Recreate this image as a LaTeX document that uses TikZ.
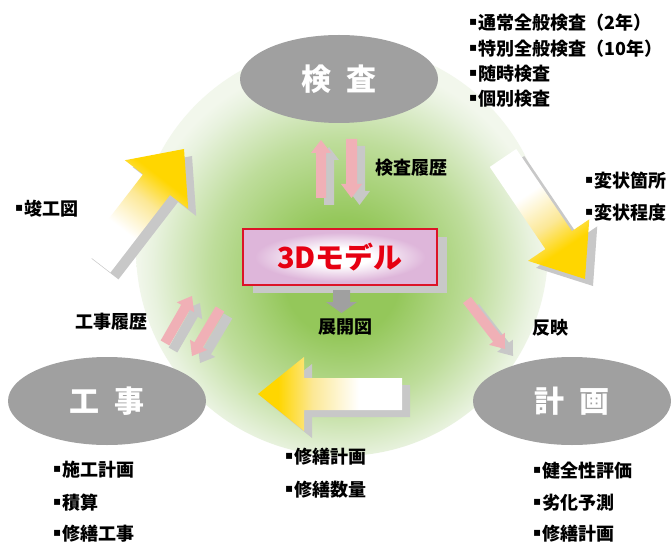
\documentclass[tikz,border=0pt]{standalone}
\usepackage{fontspec}
\setmainfont{Noto Sans CJK JP}
\newfontfamily\dejavu{DejaVu Sans}
\usetikzlibrary{shapes.geometric,calc}
\definecolor{ellgray}{RGB}{160,160,160}
\definecolor{shadowc}{RGB}{200,200,200}
\definecolor{pinkarr}{RGB}{240,176,182}
\definecolor{gc}{RGB}{148,199,90}
\definecolor{gm}{RGB}{190,221,155}
\definecolor{ge}{RGB}{232,242,222}
\definecolor{ge2}{RGB}{242,247,236}
\definecolor{ygold}{RGB}{255,214,0}
\definecolor{ymid}{RGB}{252,232,150}
\definecolor{boxred}{RGB}{220,20,40}
\definecolor{boxpink}{RGB}{222,182,218}
\definecolor{txtred}{RGB}{230,0,18}
\pgfdeclareradialshading{bgshade}{\pgfpoint{0bp}{-4bp}}{color(0bp)=(gc); color(7bp)=(gc); color(16bp)=(gm); color(23bp)=(ge); color(25bp)=(ge2); color(50bp)=(ge2)}
\pgfdeclareverticalshading{yshade}{100bp}{color(0bp)=(white); color(40bp)=(white); color(56bp)=(ymid); color(68bp)=(ygold); color(100bp)=(ygold)}
\pgfdeclareradialshading{boxshade}{\pgfpoint{0bp}{0bp}}{color(0bp)=(white); color(8bp)=(white); color(22bp)=(boxpink); color(50bp)=(boxpink)}
% #1 name, #2 tail, #3 tip, #4 half shaft, #5 half head, #6 head length, #7 options
\newcommand\fatarr[7]{%
  \coordinate (#1-t) at #2;
  \coordinate (#1-p) at #3;
  \coordinate (#1-b) at ($(#1-p)!#6!(#1-t)$);
  \begin{scope}[transform canvas={shift={(8pt,-7pt)}}]
    \fill[shadowc] ($(#1-t)!#4!90:(#1-p)$) -- ($(#1-b)!#4!90:(#1-p)$) -- ($(#1-b)!#5!90:(#1-p)$) -- (#1-p) -- ($(#1-b)!#5!-90:(#1-p)$) -- ($(#1-b)!#4!-90:(#1-p)$) -- ($(#1-t)!#4!-90:(#1-p)$) -- cycle;
  \end{scope}
  \path[#7] ($(#1-t)!#4!90:(#1-p)$) -- ($(#1-b)!#4!90:(#1-p)$) -- ($(#1-b)!#5!90:(#1-p)$) -- (#1-p) -- ($(#1-b)!#5!-90:(#1-p)$) -- ($(#1-b)!#4!-90:(#1-p)$) -- ($(#1-t)!#4!-90:(#1-p)$) -- cycle;
}
\newcommand\lbul{\raisebox{4pt}{\dejavu\fontsize{12}{12}\selectfont ▪}\kern1pt}
\tikzset{
  ell/.style={ellipse, fill=ellgray, minimum width=198pt, minimum height=88pt, inner sep=0pt, text=white, font=\bfseries\fontsize{30}{30}\selectfont},
  lbl/.style={font=\bfseries\fontsize{18}{18}\selectfont, inner sep=0pt, anchor=west},
  clbl/.style={font=\bfseries\fontsize{18}{18}\selectfont, inner sep=0pt},
  yarr/.style={shade, shading=yshade, shading angle=#1},
  parr/.style={fill=pinkarr}
}
\begin{document}
\begin{tikzpicture}[x=1pt,y=-1pt]
\fill[white] (0,0) rectangle (671,545);
\useasboundingbox (0,0) rectangle (671,545);
% background
\shade[shading=bgshade] (342,250) circle (206);
% ellipses
\node[ell] (kensa) at (339,79) {検\hspace{16pt}査};
\node[ell] (kouji) at (107,401) {工\hspace{16pt}事};
\node[ell] (keikaku) at (572,401) {計\hspace{16pt}画};
% 3D model box
\node[minimum width=194pt, minimum height=56pt, fill=shadowc, inner sep=0pt] (modelsh) at (350,265) {};
\node[minimum width=194pt, minimum height=56pt, draw=boxred, line width=1.2pt, shade, shading=boxshade, inner sep=0pt, text=txtred, font=\bfseries\fontsize{29}{29}\selectfont] (model) at (340,257) {3Dモデル};
% arrow under box
\coordinate (da-t) at (341.5,290);
\coordinate (da-p) at (341.5,313);
\coordinate (da-b) at (341.5,302);
\fill[ellgray] ($(da-t)+(-8.5,0)$) -- ($(da-b)+(-8.5,0)$) -- ($(da-b)+(-15.5,0)$) -- (da-p) -- ($(da-b)+(15.5,0)$) -- ($(da-b)+(8.5,0)$) -- ($(da-t)+(8.5,0)$) -- cycle;
% big yellow arrows
\fatarr{ya}{(97,262)}{(184,149)}{17pt}{40pt}{45pt}{yarr=-37.6}
\fatarr{yb}{(503,158)}{(585,279)}{16pt}{37pt}{47pt}{yarr=-145.9}
\fatarr{yc}{(402,394)}{(258,394)}{16pt}{37pt}{46pt}{yarr=90}
% pink arrows
\fatarr{pa}{(321,198)}{(321,140)}{5pt}{10pt}{13pt}{parr}
\fatarr{pb}{(351.5,139)}{(351.5,198)}{5.5pt}{10.5pt}{14pt}{parr}
\fatarr{pc}{(165,343)}{(192,296)}{5pt}{10pt}{13pt}{parr}
\fatarr{pd}{(220,309)}{(192,356)}{5pt}{10pt}{13pt}{parr}
\fatarr{pe}{(467,300)}{(505,349)}{5pt}{10pt}{13pt}{parr}
% labels
\node[lbl] (l1) at (375,168) {検査履歴};
\node[clbl] (l2) at (345,327) {展開図};
\node[clbl] (l3) at (111,322) {工事履歴};
\node[clbl] (l4) at (550,328) {反映};
% lists
\node[lbl] (k1) at (469,23) {\lbul 通常全般検査（2年）};
\node[lbl] (k2) at (469,49) {\lbul 特別全般検査（10年）};
\node[lbl] (k3) at (469,74) {\lbul 随時検査};
\node[lbl] (k4) at (469,99) {\lbul 個別検査};
\node[lbl] (h1) at (585,181) {\lbul 変状箇所};
\node[lbl] (h2) at (585,213) {\lbul 変状程度};
\node[lbl] (s1) at (15,209) {\lbul 竣工図};
\node[lbl] (c1) at (53,470) {\lbul 施工計画};
\node[lbl] (c2) at (53,503) {\lbul 積算};
\node[lbl] (c3) at (53,534) {\lbul 修繕工事};
\node[lbl] (m1) at (285,457) {\lbul 修繕計画};
\node[lbl] (m2) at (285,490) {\lbul 修繕数量};
\node[lbl] (p1) at (533,471) {\lbul 健全性評価};
\node[lbl] (p2) at (533,503) {\lbul 劣化予測};
\node[lbl] (p3) at (533,534) {\lbul 修繕計画};
\end{tikzpicture}
\end{document}
